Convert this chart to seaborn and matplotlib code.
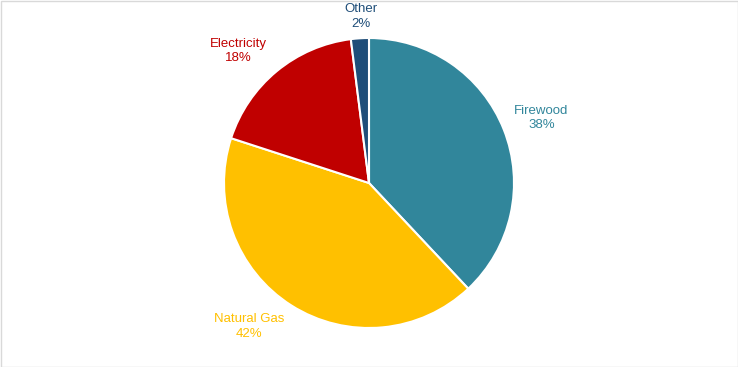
import numpy as np
import matplotlib
matplotlib.use("Agg")
import matplotlib.pyplot as plt
import seaborn as sns

sns.set_style("white")
plt.rcParams['font.family'] = ['Liberation Sans', 'DejaVu Sans']

categories = ["Firewood", "Natural Gas", "Electricity", "Other"]
shares = [38, 42, 18, 2]
colors = ["#31869B", "#FFC000", "#C00000", "#1F4E79"]
# distance of each label from the centre, as a fraction of the radius
label_dist = [1.27, 1.29, 1.28, 1.15]
label_shift = [-1.0, -7.5, 5.0, -1.0]  # degrees

fig = plt.figure(figsize=(7.38, 3.67), dpi=100)
ax = fig.add_axes([0, 0, 1, 1])

R = 145
wedges, _ = ax.pie(shares, colors=colors, startangle=90, counterclock=False,
                   radius=R, center=(0, 0), frame=True,
                   wedgeprops=dict(edgecolor="white", linewidth=1.5))
ax.set_xlim(-369, 369)
ax.set_ylim(-184, 183)
ax.set_aspect("equal")
ax.axis("off")

for w, name, val, col, d, s in zip(wedges, categories, shares, colors, label_dist, label_shift):
    mid = np.deg2rad((w.theta1 + w.theta2) / 2 + s)
    ax.text(d * R * np.cos(mid), d * R * np.sin(mid), f"{name}\n{val}%",
            ha="center", va="center", color=col, fontsize=9.5, linespacing=1.25)

fig.patches.append(plt.Rectangle((0.5 / 738, 0.5 / 367), 1 - 1 / 738, 1 - 1 / 367,
                                 transform=fig.transFigure, fill=False,
                                 edgecolor="#D9D9D9", linewidth=1))

fig.savefig("out.png", dpi=100)
